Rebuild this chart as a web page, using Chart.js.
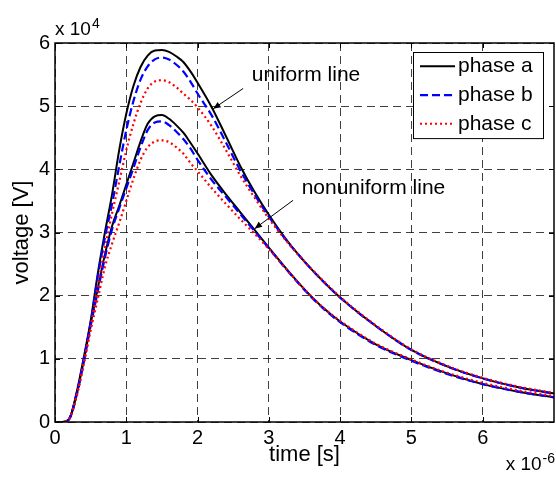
<!DOCTYPE html>
<html>
<head>
<meta charset="utf-8">
<script src="https://cdn.jsdelivr.net/npm/chart.js"></script>
<style>
  html, body { margin: 0; padding: 0; background: #fff; }
</style>
</head>
<body>
<canvas id="myChart" width="556" height="477"></canvas>
<script>
// time axis in units of 1e-6 s, voltages in units of 1e4 V
const times = [0, 0.1, 0.2, 0.3, 0.4, 0.5, 0.6, 0.7, 0.8, 0.9, 1.0, 1.1, 1.2, 1.3, 1.4, 1.5, 1.6, 1.7, 1.8, 1.9,
  2.0, 2.2, 2.4, 2.6, 2.8, 3.0, 3.25, 3.5, 3.75, 4.0, 4.5, 5.0, 5.5, 6.0, 6.5, 7.0];

const uniformA = [0, 0, 0.05, 0.45, 1.0, 1.6, 2.35, 3.0, 3.6, 4.3, 4.88, 5.32, 5.62, 5.8, 5.88, 5.89, 5.86, 5.79, 5.7, 5.55,
  5.37, 4.98, 4.52, 4.05, 3.64, 3.28, 2.88, 2.54, 2.24, 1.97, 1.52, 1.14, 0.88, 0.69, 0.55, 0.45];
const uniformB = [0, 0, 0.05, 0.43, 0.97, 1.57, 2.3, 2.92, 3.45, 4.05, 4.62, 5.08, 5.42, 5.63, 5.74, 5.77, 5.74, 5.66, 5.55, 5.39,
  5.2, 4.85, 4.42, 3.98, 3.6, 3.25, 2.87, 2.54, 2.24, 1.97, 1.52, 1.14, 0.88, 0.69, 0.55, 0.45];
const uniformC = [0, 0, 0.05, 0.4, 0.92, 1.5, 2.15, 2.75, 3.3, 3.8, 4.3, 4.72, 5.05, 5.28, 5.39, 5.41, 5.38, 5.3, 5.2, 5.1,
  4.98, 4.68, 4.3, 3.9, 3.55, 3.22, 2.86, 2.54, 2.25, 1.98, 1.53, 1.15, 0.89, 0.7, 0.56, 0.46];

const nonuniformA = [0, 0, 0.05, 0.42, 0.95, 1.55, 2.12, 2.65, 3.1, 3.42, 3.76, 4.1, 4.44, 4.72, 4.84, 4.86, 4.8, 4.7, 4.58, 4.42,
  4.25, 3.9, 3.6, 3.32, 3.04, 2.76, 2.42, 2.1, 1.82, 1.59, 1.23, 0.98, 0.77, 0.6, 0.48, 0.39];
const nonuniformB = [0, 0, 0.05, 0.41, 0.93, 1.52, 2.07, 2.6, 3.05, 3.38, 3.7, 4.02, 4.35, 4.62, 4.74, 4.76, 4.7, 4.6, 4.48, 4.33,
  4.15, 3.83, 3.56, 3.29, 3.02, 2.75, 2.41, 2.09, 1.81, 1.58, 1.22, 0.97, 0.76, 0.6, 0.48, 0.39];
const nonuniformC = [0, 0, 0.05, 0.39, 0.9, 1.45, 1.95, 2.45, 2.82, 3.15, 3.5, 3.85, 4.15, 4.35, 4.44, 4.46, 4.43, 4.35, 4.25, 4.1,
  3.97, 3.7, 3.45, 3.21, 2.98, 2.74, 2.41, 2.1, 1.82, 1.6, 1.24, 0.99, 0.78, 0.62, 0.5, 0.41];

const xTicks = [0, 1, 2, 3, 4, 5, 6];
const yTicks = [0, 1, 2, 3, 4, 5, 6];
const phaseLabels = ["phase a", "phase b", "phase c"];

const FONT = '"Liberation Sans", Arial, Helvetica, sans-serif';
const phaseStyle = [
  { color: "#000000", dash: [], width: 2 },
  { color: "#0000ff", dash: [8, 4], width: 2.2 },
  { color: "#ff0000", dash: [2, 3], width: 2.2 },
];

function toPoints(vals) {
  return vals.map((v, i) => ({ x: times[i], y: v }));
}

function makeSet(label, vals, phase) {
  const st = phaseStyle[phase];
  return {
    label: label,
    data: toPoints(vals),
    borderColor: st.color,
    borderDash: st.dash,
    borderWidth: st.width,
    pointRadius: 0,
    fill: false,
    cubicInterpolationMode: "monotone",
    order: 3 - phase,
  };
}

function arrow(ctx, x1, y1, x2, y2) {
  ctx.beginPath();
  ctx.moveTo(x1, y1);
  ctx.lineTo(x2, y2);
  ctx.stroke();
  const ang = Math.atan2(y2 - y1, x2 - x1);
  const len = 8;
  ctx.beginPath();
  ctx.moveTo(x2, y2);
  ctx.lineTo(x2 - len * Math.cos(ang - 0.4), y2 - len * Math.sin(ang - 0.4));
  ctx.lineTo(x2 - len * Math.cos(ang + 0.4), y2 - len * Math.sin(ang + 0.4));
  ctx.closePath();
  ctx.fill();
}

function expLabel(ctx, x, y, base, sup, alignRight) {
  ctx.font = "19px " + FONT;
  const wb = ctx.measureText(base).width;
  ctx.font = "14px " + FONT;
  const ws = ctx.measureText(sup).width;
  const x0 = alignRight ? x - wb - ws : x;
  ctx.textAlign = "left";
  ctx.textBaseline = "alphabetic";
  ctx.font = "19px " + FONT;
  ctx.fillText(base, x0, y);
  ctx.font = "14px " + FONT;
  ctx.fillText(sup, x0 + wb + 1, y - 7);
}

const overlay = {
  id: "overlay",
  afterDatasetsDraw(chart) {
    const { ctx, chartArea: a, scales: { x, y } } = chart;
    ctx.save();
    ctx.setLineDash([]);
    ctx.strokeStyle = "#000";
    ctx.fillStyle = "#000";

    // inner tick marks
    ctx.lineWidth = 1;
    ctx.beginPath();
    xTicks.forEach(v => {
      const px = Math.round(x.getPixelForValue(v)) + 0.5;
      ctx.moveTo(px, a.bottom); ctx.lineTo(px, a.bottom - 5);
      ctx.moveTo(px, a.top); ctx.lineTo(px, a.top + 5);
    });
    yTicks.forEach(v => {
      const py = Math.round(y.getPixelForValue(v)) + 0.5;
      ctx.moveTo(a.left, py); ctx.lineTo(a.left + 5, py);
      ctx.moveTo(a.right, py); ctx.lineTo(a.right - 5, py);
    });
    ctx.stroke();

    // axes box
    ctx.lineWidth = 1.5;
    ctx.strokeRect(a.left, a.top, a.right - a.left, a.bottom - a.top);

    // annotations
    ctx.lineWidth = 1;
    ctx.font = "21px " + FONT;
    ctx.textAlign = "left";
    ctx.textBaseline = "middle";
    ctx.fillText("uniform line", x.getPixelForValue(2.76), y.getPixelForValue(5.49));
    arrow(ctx, x.getPixelForValue(2.64), y.getPixelForValue(5.28), x.getPixelForValue(2.22), y.getPixelForValue(4.96));
    ctx.fillText("nonuniform line", x.getPixelForValue(3.46), y.getPixelForValue(3.70));
    arrow(ctx, x.getPixelForValue(3.34), y.getPixelForValue(3.51), x.getPixelForValue(2.8), y.getPixelForValue(3.06));

    // legend
    const bw = 130, rowH = 28.7;
    const bx = a.right - 11 - bw, by = a.top + 9;
    ctx.fillStyle = "#fff";
    ctx.fillRect(bx, by, bw, rowH * 3);
    ctx.strokeStyle = "#000";
    ctx.lineWidth = 1;
    ctx.strokeRect(bx + 0.5, by + 0.5, bw, rowH * 3);
    phaseLabels.forEach((lab, i) => {
      const st = phaseStyle[i];
      const cy = by + rowH * (i + 0.5);
      ctx.strokeStyle = st.color;
      ctx.lineWidth = st.width;
      ctx.setLineDash(st.dash);
      ctx.beginPath();
      ctx.moveTo(bx + 7, cy);
      ctx.lineTo(bx + 42, cy);
      ctx.stroke();
      ctx.setLineDash([]);
      ctx.fillStyle = "#000";
      ctx.font = "21px " + FONT;
      ctx.textBaseline = "middle";
      ctx.fillText(lab, bx + 45, cy);
    });
    ctx.restore();
  },
  afterDraw(chart) {
    const { ctx, chartArea: a } = chart;
    ctx.save();
    ctx.fillStyle = "#000";
    expLabel(ctx, a.left, a.top - 8, "x 10", "4", false);
    expLabel(ctx, chart.width - 2, chart.height - 7, "x 10", "-6", true);
    ctx.restore();
  },
};

new Chart(document.getElementById("myChart"), {
  type: "line",
  data: {
    datasets: [
      makeSet("phase a (uniform line)", uniformA, 0),
      makeSet("phase b (uniform line)", uniformB, 1),
      makeSet("phase c (uniform line)", uniformC, 2),
      makeSet("phase a (nonuniform line)", nonuniformA, 0),
      makeSet("phase b (nonuniform line)", nonuniformB, 1),
      makeSet("phase c (nonuniform line)", nonuniformC, 2),
    ],
  },
  options: {
    responsive: false,
    animation: false,
    devicePixelRatio: 1,
    layout: { padding: { top: 43, right: 2, left: 0, bottom: 0 } },
    plugins: {
      legend: { display: false },
      tooltip: { enabled: false },
    },
    scales: {
      x: {
        type: "linear",
        min: 0,
        max: 7,
        afterBuildTicks: s => { s.ticks = xTicks.map(v => ({ value: v })); },
        afterFit: s => { s.height = 55; },
        ticks: { color: "#000", font: { family: FONT, size: 20 }, padding: 4, maxRotation: 0 },
        grid: { color: "rgba(0,0,0,0.75)", lineWidth: 1, drawTicks: false },
        border: { display: false, dash: [8, 5] },
        title: { display: true, text: "time [s]", color: "#000", font: { family: FONT, size: 22 }, padding: { top: 0, bottom: 9 } },
      },
      y: {
        min: 0,
        max: 6,
        afterBuildTicks: s => { s.ticks = yTicks.map(v => ({ value: v })); },
        afterFit: s => { s.width = 55; },
        ticks: { color: "#000", font: { family: FONT, size: 20 }, padding: 5 },
        grid: { color: "rgba(0,0,0,0.75)", lineWidth: 1, drawTicks: false },
        border: { display: false, dash: [8, 5] },
        title: { display: true, text: "voltage [V]", color: "#000", font: { family: FONT, size: 22 }, padding: { top: 9, bottom: 0 } },
      },
    },
  },
  plugins: [overlay],
});
</script>
</body>
</html>
